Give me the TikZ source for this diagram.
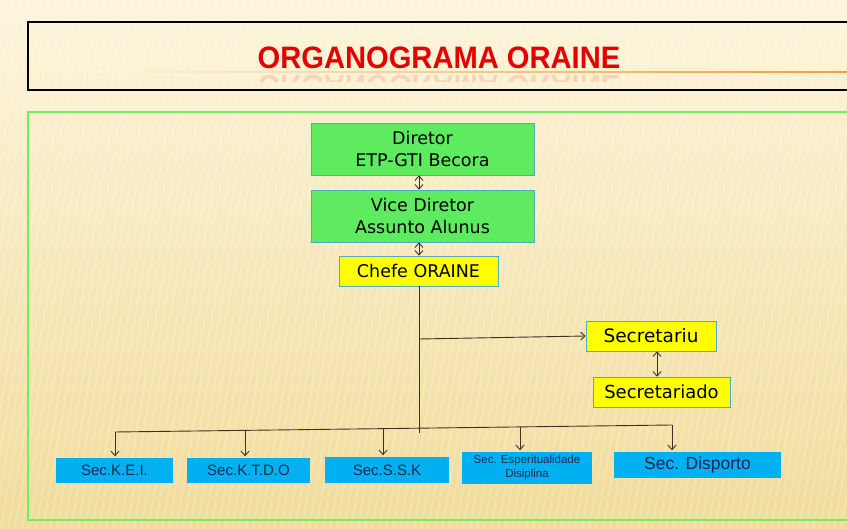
\documentclass[tikz,border=0pt]{standalone}
\usepackage{fontspec}
\setmainfont{Liberation Sans}
\newfontfamily\boxfont{DejaVu Sans}
\usetikzlibrary{arrows.meta,calc}
\definecolor{bgA}{RGB}{253,245,220}
\definecolor{bgB}{RGB}{241,220,155}
\definecolor{frameG}{RGB}{110,240,100}
\definecolor{boxG}{RGB}{95,235,95}
\definecolor{boxBorder}{RGB}{75,172,198}
\definecolor{boxY}{RGB}{255,255,0}
\definecolor{boxB}{RGB}{0,176,240}
\definecolor{txtB}{RGB}{30,40,80}
\definecolor{lineC}{RGB}{60,50,35}
\definecolor{titleR}{RGB}{228,0,0}
\definecolor{lineO}{RGB}{240,150,40}
\begin{document}
\begin{tikzpicture}[x=1pt,y=-1pt,
  gbox/.style={draw=boxBorder, line width=0.6pt, fill=boxG, inner sep=0pt, align=center, font=\boxfont\fontsize{17.5}{21.5}\selectfont, text=black},
  ybox/.style={draw=boxBorder, line width=0.6pt, fill=boxY, inner sep=0pt, font=\boxfont\fontsize{17.5}{20}\selectfont, text=black},
  bbox/.style={fill=boxB, inner sep=0pt, align=center, text=txtB, font=\fontsize{15}{17}\selectfont},
  conn/.style={draw=lineC, line width=0.9pt},
  arr/.style={conn, -{Straight Barb[length=4.5pt,width=8pt]}},
  darr/.style={conn, {Straight Barb[length=4.5pt,width=8pt]}-{Straight Barb[length=4.5pt,width=8pt]}}]
\useasboundingbox (0,0) rectangle (847,529);
% background
\shade[left color=bgA, right color=bgB, shading angle=0] (0,0) rectangle (847,529);
\shade[top color=bgA, bottom color=bgB, opacity=0.5] (0,0) rectangle (847,529);
\foreach \i in {0,7,...,980} {
  \draw[white, opacity=0.18, line width=2pt] (\i,0) -- (\i-90,529);
}
% title box
\draw[black, line width=2pt] (28,22) rectangle (850,90);
\shade[left color=bgA, right color=lineO, opacity=0.9] (95,71.5) rectangle (847,73);
\node (title) at (439,58) {\scalebox{0.94}[1]{\fontsize{31}{31}\selectfont\bfseries\color{titleR}ORGANOGRAMA ORAINE}};
\begin{scope}
\clip (0,73) rectangle (847,82);
\node[yscale=-1, opacity=0.12] (titlerefl) at (439,86) {\scalebox{0.94}[1]{\fontsize{31}{31}\selectfont\bfseries\color{titleR}ORGANOGRAMA ORAINE}};
\end{scope}
% green frame
\draw[frameG, line width=2pt] (28,112) rectangle (850,520);
% nodes
\node[gbox, minimum width=223pt, minimum height=52pt] (dir) at (422.5,149) {Diretor\\ETP-GTI Becora};
\node[gbox, minimum width=223pt, minimum height=52pt] (vice) at (422.5,216) {Vice Diretor\\Assunto Alunus};
\node[ybox, minimum width=159pt, minimum height=30pt] (chefe) at (418.5,271) {Chefe ORAINE};
\node[ybox, minimum width=130pt, minimum height=30pt, font=\boxfont\fontsize{18.5}{20}\selectfont] (secr) at (651,336) {Secretariu};
\node[ybox, minimum width=137pt, minimum height=30pt, font=\boxfont\fontsize{18}{20}\selectfont] (secd) at (661.5,392) {Secretariado};
\node[bbox, minimum width=117pt, minimum height=25pt] (kei) at (114.5,470.5) {Sec.K.E.I.};
\node[bbox, minimum width=123pt, minimum height=25pt] (ktdo) at (248.5,470.5) {Sec.K.T.D.O};
\node[bbox, minimum width=124pt, minimum height=26pt] (ssk) at (387,470) {Sec.S.S.K};
\node[bbox, minimum width=130pt, minimum height=32pt, font=\fontsize{11.5}{14}\selectfont] (esp) at (527,468) {Sec. Esperitualidade\\Disiplina};
\node[bbox, minimum width=167pt, minimum height=26pt, font=\fontsize{17.5}{19}\selectfont] (disp) at (697.5,465) {Sec. Disporto};
% connectors
\draw[darr] ($(dir.south)+(-3.5,0)$) -- ($(vice.north)+(-3.5,0)$);
\draw[darr] ($(vice.south)+(-3.5,0)$) -- ($(chefe.north)+(0.5,0)$);
\coordinate (trunkEnd) at (419,433);
\draw[conn] ($(chefe.south)+(0.5,0)$) -- (trunkEnd);
\coordinate (sbr) at (419,339);
\draw[arr] (sbr) -- (secr.west);
\draw[darr] ($(secr.south)+(6,0)$) -- ($(secd.north)+(-4.5,0)$);
\coordinate (bL) at (115,432);
\coordinate (bR) at (672,425);
\draw[conn] (bL) -- (bR);
\coordinate (d1) at (115,432);
\coordinate (d2) at (245,430.4);
\coordinate (d3) at (383,428.6);
\coordinate (d4) at (520,426.9);
\coordinate (d5) at (672,425);
\draw[arr, shorten >=1.5pt] (d1) -- (d1 |- kei.north);
\draw[arr, shorten >=1.5pt] (d2) -- (d2 |- ktdo.north);
\draw[arr, shorten >=1.5pt] (d3) -- (d3 |- ssk.north);
\draw[arr, shorten >=1.5pt] (d4) -- (d4 |- esp.north);
\draw[arr, shorten >=1.5pt] (d5) -- (d5 |- disp.north);
\end{tikzpicture}
\end{document}
